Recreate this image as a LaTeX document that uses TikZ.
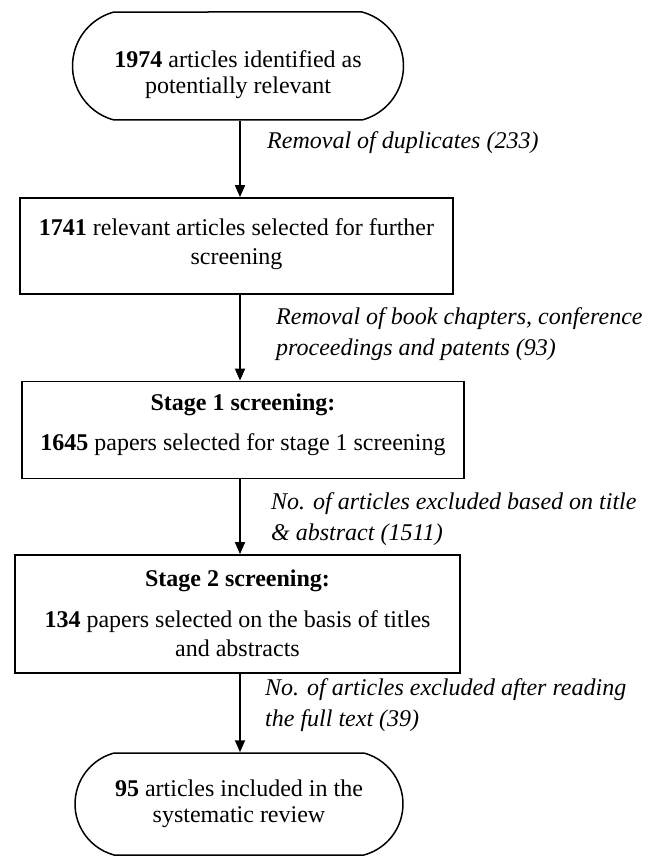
\documentclass[tikz,border=0pt]{standalone}
\usepackage{fontspec}
\setmainfont{Liberation Serif}
\usetikzlibrary{shapes.misc,arrows.meta}
\newcommand{\lowerby}[2]{\raisebox{-#1}[\height][\depth]{\begin{tabular}{@{}c@{}}#2\end{tabular}}}
\begin{document}
\begin{tikzpicture}[x=1pt,y=-1pt,
  txt/.style={font=\fontsize{24}{29}\selectfont, align=center},
  stad/.style={font=\fontsize{24}{26}\selectfont, align=center, draw, line width=1.5pt, rounded rectangle, rounded rectangle arc length=150, inner sep=0pt},
  boxx/.style={txt, draw, line width=1.8pt, rectangle, inner sep=0pt},
  lab/.style={font=\fontsize{24}{31}\selectfont\itshape, align=left, anchor=west, inner sep=0pt},
  arr/.style={line width=1.8pt, -{Triangle[length=12pt,width=10pt]}}]
\useasboundingbox (0,0) rectangle (648,856);
\coordinate (ax) at (240,0);
\node[stad, minimum width=331pt, minimum height=108pt] (n1) at (238,66)
  {\lowerby{9pt}{\textbf{1974} articles identified as\\potentially relevant}};
\node[boxx, minimum width=433pt, minimum height=96pt] (n2) at (236.5,246)
  {\lowerby{-2pt}{\textbf{1741} relevant articles selected for further\\screening}};
\node[boxx, minimum width=442pt, minimum height=97pt] (n3) at (243,430)
  {\lowerby{-5pt}{\textbf{Stage 1 screening:}\\[11pt]\textbf{1645} papers selected for stage 1 screening}};
\node[boxx, minimum width=445pt, minimum height=118pt] (n4) at (237.5,614)
  {\lowerby{2pt}{\textbf{Stage 2 screening:}\\[12pt]\textbf{134} papers selected on the basis of titles\\and abstracts}};
\node[stad, minimum width=328pt, minimum height=102pt] (n5) at (239,804)
  {\textbf{95} articles included in the\\systematic review};
\node[lab] (l1) at (267,143) {Removal of duplicates (233)};
\node[lab] (l2) at (276,334) {Removal of book chapters, conference\\proceedings and patents (93)};
\node[lab] (l3) at (271,519) {No. of articles excluded based on title\\\& abstract (1511)};
\node[lab] (l4) at (265,705) {No. of articles excluded after reading\\the full text (39)};
\draw[arr] (n1.south -| ax) -- (n2.north -| ax);
\draw[arr] (n2.south -| ax) -- (n3.north -| ax);
\draw[arr] (n3.south -| ax) -- (n4.north -| ax);
\draw[arr] (n4.south -| ax) -- (n5.north -| ax);
\end{tikzpicture}
\end{document}
